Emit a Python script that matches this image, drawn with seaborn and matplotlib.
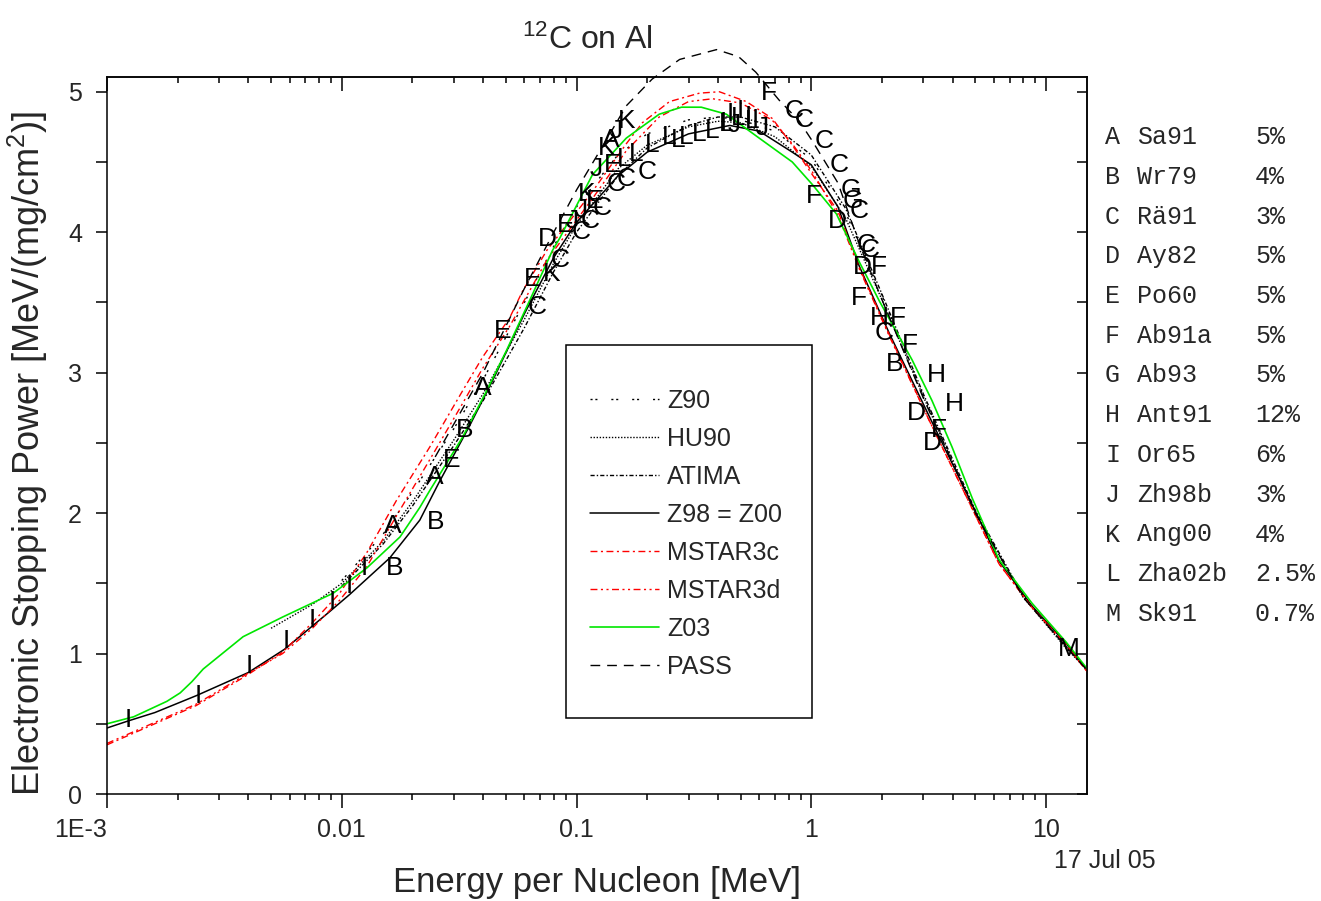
import matplotlib
matplotlib.use('Agg')
import matplotlib.pyplot as plt
import matplotlib.ticker as mticker
from matplotlib.patches import Rectangle
import pandas as pd
import seaborn as sns

# ---- theoretical curves: energy per nucleon [MeV] -> stopping power ----
z90_e = [0.01, 0.015, 0.02, 0.03, 0.04, 0.06, 0.08, 0.1, 0.15, 0.2, 0.3, 0.4,
         0.5, 0.7, 1.0, 1.4, 2.0, 3.0, 5.0, 8.0, 12.0, 15.0]
z90_s = [1.52, 1.85, 2.15, 2.60, 2.95, 3.50, 3.90, 4.18, 4.55, 4.70, 4.80, 4.82,
         4.80, 4.72, 4.52, 4.14, 3.55, 2.84, 2.00, 1.40, 1.06, 0.88]

hu90_e = [0.005, 0.0075, 0.01, 0.015, 0.02, 0.03, 0.04, 0.06, 0.08, 0.1, 0.15,
          0.2, 0.3, 0.4, 0.5, 0.7, 1.0, 1.4, 2.0, 3.0, 5.0, 8.0, 12.0, 15.0]
hu90_s = [1.18, 1.35, 1.50, 1.80, 2.08, 2.52, 2.85, 3.38, 3.78, 4.05, 4.45,
          4.62, 4.75, 4.79, 4.78, 4.68, 4.47, 4.10, 3.52, 2.83, 2.00, 1.40, 1.05, 0.88]

atima_e = [0.01, 0.015, 0.02, 0.03, 0.04, 0.06, 0.08, 0.1, 0.15, 0.2, 0.3, 0.4,
           0.5, 0.7, 1.0, 1.4, 2.0, 3.0, 5.0, 8.0, 12.0, 15.0]
atima_s = [1.48, 1.78, 2.05, 2.48, 2.80, 3.32, 3.72, 4.00, 4.40, 4.60, 4.76, 4.82,
           4.82, 4.75, 4.55, 4.17, 3.56, 2.85, 2.02, 1.41, 1.06, 0.88]

z98_e = [0.001, 0.00123, 0.0016, 0.0024, 0.004, 0.0057, 0.0089, 0.0108, 0.016,
         0.0215, 0.026, 0.035, 0.045, 0.06, 0.08, 0.1, 0.15, 0.2, 0.3, 0.45, 0.6,
         0.83, 1.0, 1.3, 1.6, 2.15, 3.2, 4.6, 6.3, 8.7, 12.2, 15.0]
z98_s = [0.47, 0.52, 0.58, 0.70, 0.865, 1.03, 1.30, 1.42, 1.68,
         1.95, 2.22, 2.62, 2.98, 3.42, 3.82, 4.07, 4.40, 4.57, 4.70, 4.76, 4.72,
         4.57, 4.48, 4.18, 3.76, 3.28, 2.68, 2.14, 1.66, 1.34, 1.07, 0.88]

mstar3c_e = [0.001, 0.0024, 0.0039, 0.0056, 0.0075, 0.0098, 0.0128, 0.0171, 0.0237,
             0.0327, 0.0398, 0.0519, 0.0589, 0.0747, 0.117, 0.163, 0.191, 0.249,
             0.334, 0.406, 0.529, 0.682, 0.83, 1.01, 1.3, 1.6, 2.15, 3.18, 4.57,
             6.3, 8.7, 12.2, 15.0]
mstar3c_s = [0.35, 0.63, 0.84, 1.01, 1.22, 1.43, 1.72, 2.09, 2.47,
             2.87, 3.11, 3.39, 3.58, 3.87, 4.29, 4.63, 4.78, 4.93,
             4.99, 5.00, 4.93, 4.81, 4.62, 4.41, 4.15, 3.75, 3.27, 2.66, 2.12,
             1.64, 1.33, 1.06, 0.87]

mstar3d_e = [0.001, 0.0024, 0.0039, 0.0056, 0.0075, 0.0098, 0.0128, 0.0171, 0.0237,
             0.0327, 0.0398, 0.0519, 0.0747, 0.117, 0.163, 0.225, 0.30, 0.38, 0.5,
             0.68, 0.83, 1.01, 1.3, 1.6, 2.15, 3.18, 4.57, 6.3, 8.7, 12.2, 15.0]
mstar3d_s = [0.36, 0.64, 0.85, 1.00, 1.18, 1.38, 1.62, 1.98, 2.38,
             2.78, 3.03, 3.33, 3.80, 4.24, 4.58, 4.82, 4.93, 4.95, 4.92,
             4.80, 4.63, 4.43, 4.12, 3.74, 3.26, 2.66, 2.12, 1.64, 1.33, 1.06, 0.87]

z03_e = [0.001, 0.0013, 0.0018, 0.00205, 0.0023, 0.00257, 0.0038, 0.0056, 0.0092,
         0.0128, 0.0177, 0.0215, 0.0237, 0.0327, 0.0414, 0.0504, 0.063, 0.079,
         0.085, 0.117, 0.163, 0.225, 0.28, 0.34, 0.435, 0.6, 0.83, 1.01, 1.28,
         1.6, 1.95, 2.69, 3.27, 3.98, 4.84, 6.3, 8.7, 12.2, 15.0]
z03_s = [0.50, 0.55, 0.66, 0.72, 0.80, 0.89, 1.12, 1.26, 1.43,
         1.61, 1.83, 2.04, 2.16, 2.54, 2.87, 3.16, 3.51, 3.87,
         3.96, 4.41, 4.67, 4.84, 4.89, 4.89, 4.84, 4.67, 4.50, 4.34, 4.13,
         3.79, 3.51, 3.09, 2.80, 2.47, 2.11, 1.67, 1.36, 1.08, 0.89]

pass_e = [0.025, 0.04, 0.06, 0.08, 0.1, 0.13, 0.163, 0.21, 0.275, 0.395, 0.49,
          0.58, 0.73, 0.89, 1.01, 1.3, 1.6, 2.0, 3.0, 5.0, 8.0, 12.0, 15.0]
pass_s = [2.40, 3.00, 3.60, 4.00, 4.30, 4.62, 4.90, 5.09, 5.23, 5.30, 5.25,
          5.14, 4.94, 4.79, 4.65, 4.35, 3.92, 3.52, 2.82, 2.00, 1.40, 1.06, 0.88]

# ---- experimental points, drawn as their reference letter ----
point_letter = (['I'] * 8
                + ['A', 'A', 'A', 'B', 'B', 'E', 'B', 'E', 'E', 'C']
                + ['D', 'C', 'E', 'K']
                + ['C', 'C', 'C', 'C', 'C', 'C']
                + ['E', 'L', 'L', 'L', 'L', 'L', 'L', 'L', 'L', 'L', 'L', 'L', 'E']
                + ['J', 'K', 'J', 'K', 'J', 'K', 'A', 'J']
                + ['I', 'I', 'I', 'I', 'J', 'I', 'J']
                + ['F', 'C', 'C', 'C', 'C', 'G', 'C', 'C', 'C', 'F', 'D', 'D',
                   'F', 'H', 'C', 'F', 'F', 'B', 'H', 'H', 'D', 'D', 'F', 'F', 'G']
                + ['M'])
point_energy = ([0.00123, 0.00244, 0.00403, 0.0058, 0.0075, 0.0091, 0.0108, 0.0125]
                + [0.0165, 0.0248, 0.0399, 0.0168, 0.0250, 0.0293, 0.0334, 0.0485, 0.065, 0.0682]
                + [0.075, 0.085, 0.09, 0.078]
                + [0.114, 0.128, 0.148, 0.163, 0.20, 0.105]
                + [0.142, 0.180, 0.21, 0.249, 0.294, 0.334, 0.378, 0.435, 0.49, 0.56, 0.16, 0.27, 0.12]
                + [0.096, 0.11, 0.121, 0.134, 0.148, 0.163, 0.14, 0.105]
                + [0.45, 0.5, 0.54, 0.58, 0.47, 0.42, 0.62]
                + [0.66, 0.847, 0.93, 1.14, 1.32, 1.48, 1.6, 1.71, 1.79, 1.95, 1.29, 1.65,
                   1.6, 1.95, 2.05, 2.35, 2.64, 2.27, 3.42, 4.09, 2.8, 3.27, 3.5, 1.03, 1.5]
                + [12.5])
point_power = ([0.53, 0.70, 0.91, 1.09, 1.24, 1.37, 1.48, 1.61]
               + [1.91, 2.26, 2.89, 1.61, 1.94, 2.38, 2.59, 3.30, 3.67, 3.47]
               + [3.95, 3.80, 4.05, 3.70]
               + [4.08, 4.17, 4.34, 4.38, 4.43, 4.00]
               + [4.48, 4.56, 4.62, 4.68, 4.68, 4.70, 4.72, 4.77, 4.81, 4.79, 4.52, 4.66, 4.22]
               + [4.08, 4.27, 4.45, 4.60, 4.72, 4.79, 4.66, 4.16]
               + [4.84, 4.86, 4.82, 4.80, 4.76, 4.78, 4.74]
               + [4.99, 4.86, 4.80, 4.65, 4.48, 4.30, 4.15, 3.91, 3.87, 3.75, 4.08, 3.75,
                  3.53, 3.39, 3.28, 3.39, 3.20, 3.06, 2.98, 2.78, 2.71, 2.50, 2.59, 4.26, 4.22]
               + [1.03])

# ---- reference table at the right ----
ref_letter = ['A', 'B', 'C', 'D', 'E', 'F', 'G', 'H', 'I', 'J', 'K', 'L', 'M']
ref_name = ['Sa91', 'Wr79', 'Rä91', 'Ay82', 'Po60', 'Ab91a', 'Ab93', 'Ant91',
            'Or65', 'Zh98b', 'Ang00', 'Zha02b', 'Sk91']
ref_error = ['5%', '4%', '3%', '5%', '5%', '5%', '5%', '12%', '6%', '3%', '4%',
             '2.5%', '0.7%']

x_ticks = [0.001, 0.01, 0.1, 1, 10]
x_tick_labels = ['1E-3', '0.01', '0.1', '1', '10']

sns.set_theme(style='white')
plt.rcParams['font.family'] = ['Liberation Sans', 'DejaVu Sans']
plt.rcParams['mathtext.default'] = 'regular'

fig = plt.figure(figsize=(13.21, 9.01), dpi=100)
ax = fig.add_axes([107 / 1321, 1 - 794 / 901, 980 / 1321, 717 / 901])

curves = [
    ('Z90', z90_e, z90_s, 'black', (0, (1.5, 2, 1.5, 10)), 1.0),
    ('HU90', hu90_e, hu90_s, 'black', (0, (1, 1.2)), 1.0),
    ('ATIMA', atima_e, atima_s, 'black', (0, (3, 1.5, 1, 1.5)), 1.0),
    ('Z98 = Z00', z98_e, z98_s, 'black', '-', 1.1),
    ('MSTAR3c', mstar3c_e, mstar3c_s, 'red', (0, (5, 2.5, 1.5, 2.5)), 1.0),
    ('MSTAR3d', mstar3d_e, mstar3d_s, 'red', (0, (5, 2.5, 1.5, 2.5, 1.5, 2.5)), 1.0),
    ('Z03', z03_e, z03_s, '#00e600', '-', 1.2),
    ('PASS', pass_e, pass_s, 'black', (0, (7, 5)), 1.0),
]
handles = []
for name, e, s, col, ls, lw in curves:
    df = pd.DataFrame({'energy': e, 'power': s})
    sns.lineplot(data=df, x='energy', y='power', ax=ax, color=col,
                 linestyle=ls, lw=lw, label=name, legend=False)
    line = ax.get_lines()[-1]
    if name == 'PASS':
        line.set_clip_on(False)
    handles.append(line)

for let, e, s in zip(point_letter, point_energy, point_power):
    ax.text(e, s, let, fontsize=19, ha='center', va='center', color='black',
            clip_on=True, zorder=3)

ax.set_xscale('log')
ax.set_xlim(1e-3, 14.95)
ax.set_ylim(0, 5.105)
ax.xaxis.set_major_locator(mticker.FixedLocator(x_ticks))
ax.xaxis.set_major_formatter(mticker.FixedFormatter(x_tick_labels))
ax.xaxis.set_minor_locator(mticker.LogLocator(base=10, subs=range(2, 10)))
ax.xaxis.set_minor_formatter(mticker.NullFormatter())
ax.yaxis.set_major_locator(mticker.MultipleLocator(1))
ax.yaxis.set_minor_locator(mticker.MultipleLocator(0.5))

ax.tick_params(axis='x', which='major', direction='out', length=10, width=1.1,
               labelsize=18, pad=7, color='black', bottom=True, top=False)
ax.tick_params(axis='x', which='minor', direction='out', length=4.5, width=1.1,
               color='black', bottom=True, top=False)
ax.tick_params(axis='y', which='both', direction='out', length=8, width=1.1,
               labelsize=18, pad=10, color='black', left=True, right=False)
for lab in ax.get_xticklabels()[:1]:
    lab.set_horizontalalignment('right')

for sp in ax.spines.values():
    sp.set_color('black')
    sp.set_linewidth(1.1)

top = ax.secondary_xaxis('top')
top.xaxis.set_major_locator(mticker.FixedLocator(x_ticks))
top.xaxis.set_minor_locator(mticker.LogLocator(base=10, subs=range(2, 10)))
top.tick_params(axis='x', which='major', direction='in', length=10, width=1.1,
                labeltop=False, color='black')
top.tick_params(axis='x', which='minor', direction='in', length=4.5, width=1.1,
                color='black')
top.xaxis.set_major_formatter(mticker.NullFormatter())
top.xaxis.set_minor_formatter(mticker.NullFormatter())

right = ax.secondary_yaxis('right')
right.yaxis.set_major_locator(mticker.MultipleLocator(0.5))
right.tick_params(axis='y', which='major', direction='in', length=7, width=1.1,
                  labelright=False, color='black')
right.yaxis.set_major_formatter(mticker.NullFormatter())

ax.set_xlabel('Energy per Nucleon [MeV]', fontsize=25)
ax.xaxis.set_label_coords(0.5, -0.1)
ax.set_ylabel('Electronic Stopping Power [MeV/(mg/cm$^2$)]', fontsize=26)
ax.yaxis.set_label_coords(-0.058, 0.475)

fig.text(0.445, 0.955, '$^{12}$C on Al', fontsize=23, ha='center', va='center')
fig.text(1105 / 1321, 1 - 861 / 901, '17 Jul 05', fontsize=18, ha='center',
         va='center')

# legend box
ax.add_patch(Rectangle((0.4684, 0.106), 0.2510, 0.5202, transform=ax.transAxes,
                       fill=True, facecolor='white', edgecolor='black', lw=1.1,
                       zorder=4))
leg = ax.legend(handles=handles, labels=[c[0] for c in curves],
                loc='upper left', bbox_to_anchor=(0.4929, 0.565),
                frameon=False, fontsize=18, handlelength=2.75,
                handletextpad=0.32, labelspacing=0.56, borderpad=0,
                borderaxespad=0)
leg.set_zorder(5)

for i, (a, n, p) in enumerate(zip(ref_letter, ref_name, ref_error)):
    yy = 1 - (137 + i * 39.75) / 901
    fig.text(1105 / 1321, yy, a, fontsize=18, family='Liberation Mono',
             ha='left', va='center')
    fig.text(1137 / 1321, yy, n, fontsize=18, family='Liberation Mono',
             ha='left', va='center')
    fig.text(1255 / 1321, yy, p, fontsize=18, family='Liberation Mono',
             ha='left', va='center')

fig.savefig('out.png', dpi=100)
plt.close(fig)
